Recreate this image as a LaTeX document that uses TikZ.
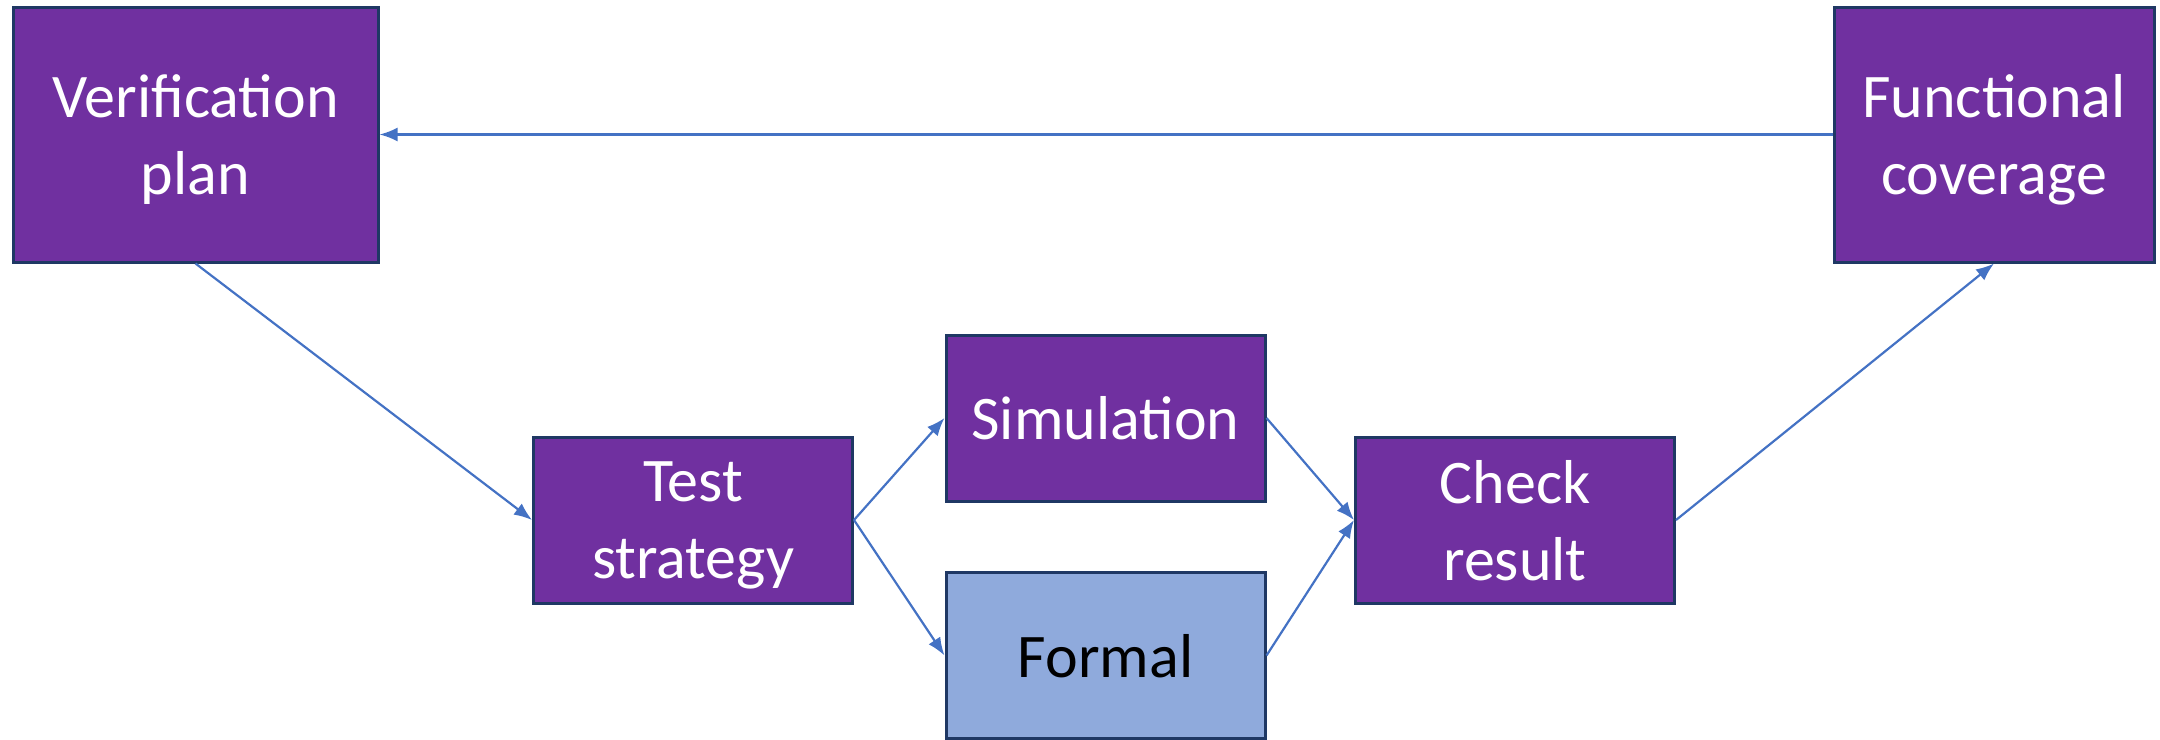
\documentclass[tikz,border=0pt]{standalone}
\usepackage{fontspec}
\setmainfont{Carlito}
\usetikzlibrary{positioning,arrows.meta}
\definecolor{boxpurple}{HTML}{7030A0}
\definecolor{boxedge}{HTML}{1F3864}
\definecolor{formalblue}{HTML}{8FAADC}
\definecolor{linkblue}{HTML}{4472C4}

\begin{document}
\begin{tikzpicture}[x=1pt,y=-1pt]
  \tikzstyle{stage}=[draw=boxedge,line width=3pt,fill=boxpurple,text=white,align=center,inner sep=0pt,text depth=0pt,font=\fontsize{62}{77}\selectfont];
  \tikzstyle{small}=[minimum width=319pt,minimum height=166pt];
  \tikzstyle{lnk}=[draw=linkblue,line width=2.2pt,-{Latex[length=18pt,width=14pt]}];
  \useasboundingbox (0,0) rectangle (2160,739);
  \node [stage,minimum width=365pt,minimum height=255pt] (plan) at (195.5,134.5) {Verification\\plan};
  \node [stage,minimum width=320pt,minimum height=255pt] (cov) at (1994,134.5) {Functional\\coverage};
  \node [stage,small] (strat) at (693,520) {Test\\strategy};
  \node [stage,small] (sim) at (1105.5,418) {Simulation};
  \node [stage,small,fill=formalblue,text=black] (formal) at (1105.5,655.5) {Formal};
  \node [stage,small] (check) at (1515,520) {Check\\result};
  \draw [lnk] (cov.west) -- (plan.east);
  \draw [lnk] (plan.south) -- (strat.west);
  \draw [lnk] (strat.east) -- (sim.west);
  \draw [lnk] (strat.east) -- (formal.west);
  \draw [lnk] (sim.east) -- (check.west);
  \draw [lnk] (formal.east) -- (check.west);
  \draw [lnk] (check.east) -- (cov.south);
\end{tikzpicture}
\end{document}
